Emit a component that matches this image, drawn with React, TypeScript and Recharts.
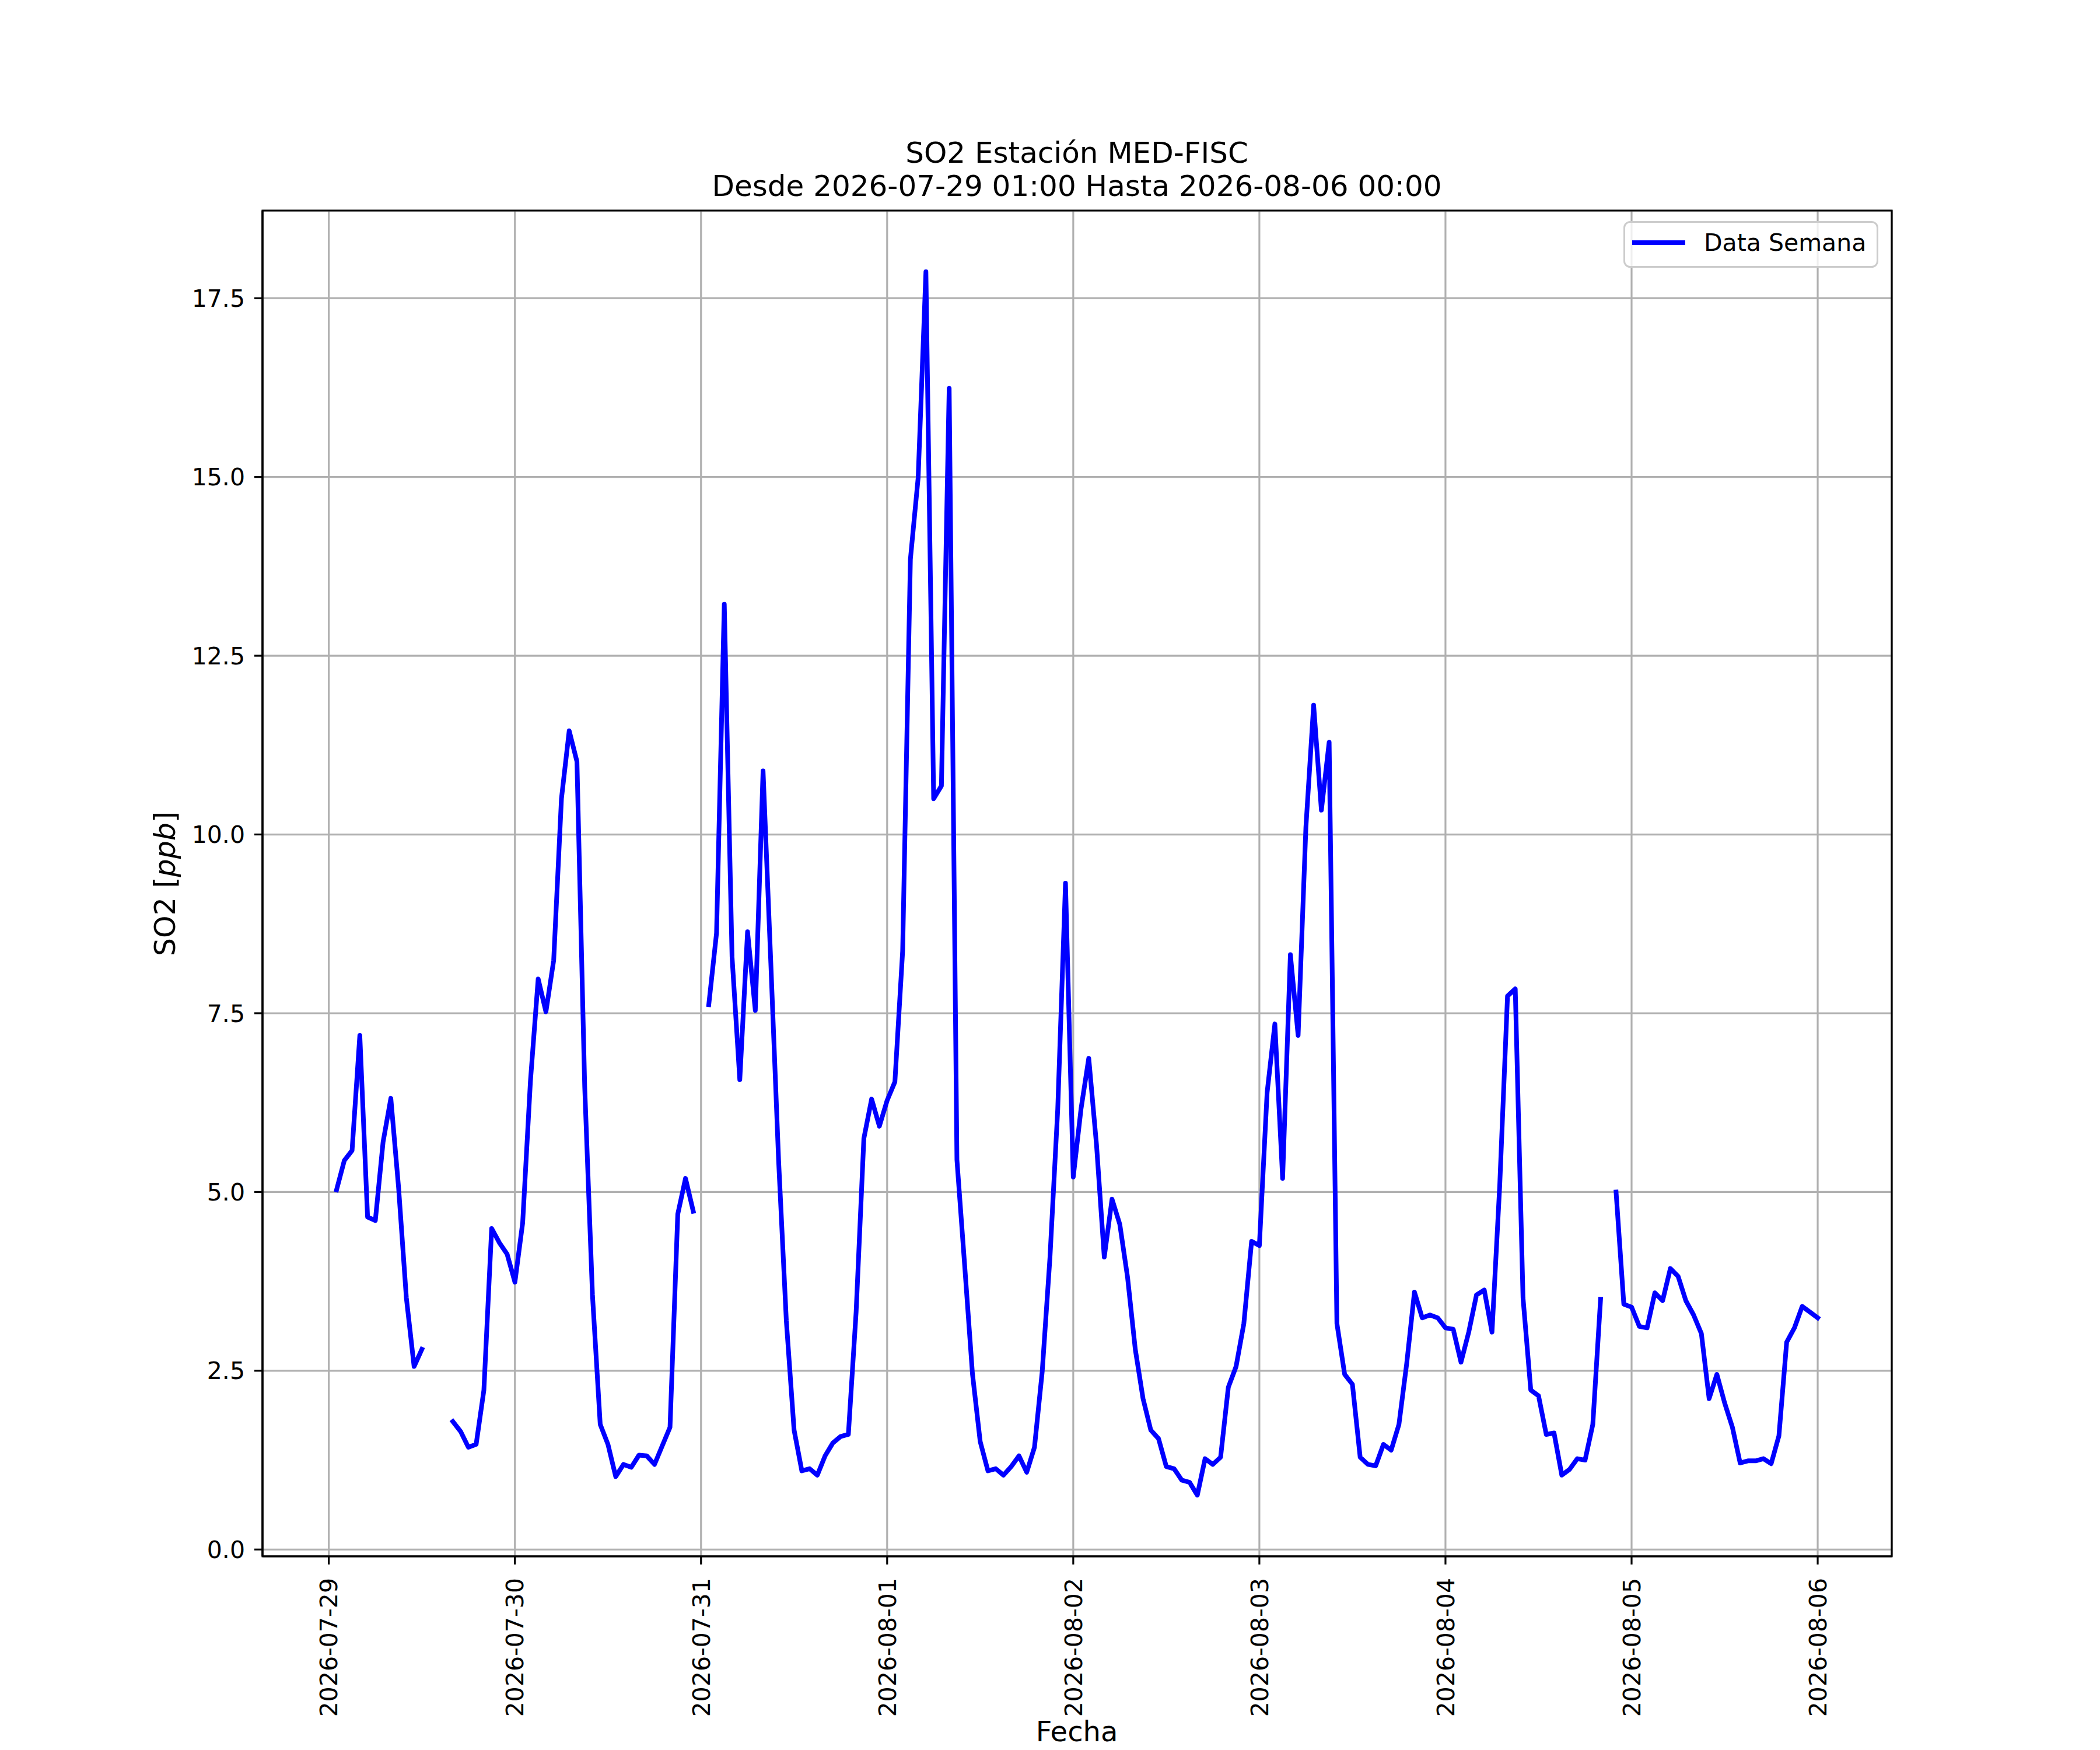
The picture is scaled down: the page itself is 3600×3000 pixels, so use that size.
import React from 'react';
import { LineChart, Line, XAxis, YAxis, CartesianGrid, Legend, ReferenceArea } from 'recharts';

// Hourly SO2 values (ppb), one array per day, starting 2026-07-29 01:00
const day0729 = [5.03, 5.44, 5.58, 7.19, 4.65, 4.60, 5.70, 6.31, 5.06, 3.52, 2.56, 2.80, null, null, null, 1.79, 1.65, 1.43, 1.47, 2.23, 4.49, 4.29, 4.13, 3.74];
const day0730 = [4.57, 6.55, 7.98, 7.52, 8.24, 10.5, 11.45, 11.02, 6.47, 3.56, 1.75, 1.47, 1.02, 1.19, 1.15, 1.32, 1.31, 1.19, 1.45, 1.71, 4.69, 5.19, 4.73, null];
const day0731 = [7.62, 8.62, 13.22, 8.29, 6.57, 8.64, 7.54, 10.89, 8.2, 5.45, 3.20, 1.67, 1.10, 1.13, 1.04, 1.31, 1.49, 1.58, 1.61, 3.32, 5.75, 6.30, 5.92, 6.28];
const day0801 = [6.54, 8.37, 13.85, 14.99, 17.87, 10.50, 10.68, 16.24, 5.45, 3.97, 2.46, 1.51, 1.10, 1.13, 1.04, 1.16, 1.31, 1.08, 1.43, 2.49, 4.09, 6.16, 9.32, 5.21];
const day0802 = [6.16, 6.87, 5.66, 4.09, 4.90, 4.55, 3.81, 2.80, 2.11, 1.67, 1.55, 1.16, 1.13, 0.97, 0.94, 0.76, 1.27, 1.19, 1.29, 2.27, 2.56, 3.16, 4.31, 4.25];
const day0803 = [6.39, 7.35, 5.19, 8.32, 7.19, 10.10, 11.81, 10.34, 11.29, 3.16, 2.45, 2.31, 1.29, 1.19, 1.17, 1.47, 1.39, 1.75, 2.60, 3.60, 3.24, 3.28, 3.24, 3.10];
const day0804 = [3.08, 2.62, 3.04, 3.56, 3.63, 3.04, 5.10, 7.74, 7.84, 3.52, 2.23, 2.15, 1.61, 1.63, 1.04, 1.12, 1.27, 1.25, 1.75, 3.50, null, 5.00, 3.43, 3.39];
const day0805 = [3.12, 3.10, 3.59, 3.48, 3.93, 3.82, 3.48, 3.28, 3.02, 2.11, 2.45, 2.05, 1.71, 1.21, 1.24, 1.24, 1.27, 1.20, 1.59, 2.90, 3.10, 3.40, 3.32, 3.24];

const dayLabels = ['2026-07-29', '2026-07-30', '2026-07-31', '2026-08-01', '2026-08-02', '2026-08-03', '2026-08-04', '2026-08-05', '2026-08-06'];
const yTicks = [0, 2.5, 5, 7.5, 10, 12.5, 15, 17.5];

const titleLine1 = 'SO2 Estación MED-FISC';
const titleLine2 = 'Desde 2026-07-29 01:00 Hasta 2026-08-06 00:00';
const seriesName = 'Data Semana';

const allDays = [day0729, day0730, day0731, day0801, day0802, day0803, day0804, day0805];
const data = allDays.flat().map((v, i) => ({ h: i + 1, so2: v }));
const xTicks = dayLabels.map((_, i) => i * 24);

const X_DOMAIN: [number, number] = [-8.55, 201.55];
const Y_DOMAIN: [number, number] = [-0.0955, 18.7255];

const FONT = 'DejaVu Sans';

const XTick = (props: any) => {
  const { x, y, payload } = props;
  const idx = Math.round(payload.value / 24);
  return (
    <text
      x={x}
      y={y}
      transform={`rotate(-90, ${x}, ${y})`}
      textAnchor="end"
      dy="0.36em"
      fontSize={41}
      fontFamily={FONT}
      fill="#000"
    >
      {dayLabels[idx]}
    </text>
  );
};

const LegendBox = () => (
  <svg width={440} height={82} style={{ display: 'block', overflow: 'visible' }}>
    <rect x={1.5} y={1.5} width={434} height={77} rx={10} ry={10} fill="#ffffff" fillOpacity={0.8} stroke="#cccccc" strokeWidth={3} />
    <line x1={15} y1={37} x2={106} y2={37} stroke="#0000ff" strokeWidth={8} />
    <text x={138} y={51} fontSize={41} fontFamily={FONT} fill="#000">{seriesName}</text>
  </svg>
);

export default function App() {
  return (
    <div style={{ position: 'absolute', left: 0, top: 0, width: 3600, height: 3000, background: '#fff' }}>
      <LineChart
        width={3600}
        height={3000}
        data={data}
        margin={{ top: 361, right: 357, bottom: 32, left: 250 }}
      >
        <CartesianGrid stroke="#b0b0b0" strokeWidth={3.2} />
        <XAxis
          dataKey="h"
          type="number"
          domain={X_DOMAIN}
          ticks={xTicks}
          allowDataOverflow
          height={300}
          tick={<XTick />}
          tickSize={14}
          tickMargin={23}
          tickLine={{ stroke: '#000', strokeWidth: 3.2 }}
          axisLine={{ stroke: '#000', strokeWidth: 3.2 }}
          interval={0}
        />
        <YAxis
          type="number"
          domain={Y_DOMAIN}
          ticks={yTicks}
          allowDataOverflow
          width={200}
          tickFormatter={(v: number) => v.toFixed(1)}
          tick={{ fontSize: 41, fill: '#000', fontFamily: FONT }}
          tickSize={14}
          tickMargin={16}
          tickLine={{ stroke: '#000', strokeWidth: 3.2 }}
          axisLine={{ stroke: '#000', strokeWidth: 3.2 }}
          interval={0}
        />
        <ReferenceArea
          x1={X_DOMAIN[0]}
          x2={X_DOMAIN[1]}
          y1={Y_DOMAIN[0]}
          y2={Y_DOMAIN[1]}
          fill="none"
          fillOpacity={0}
          stroke="#000"
          strokeWidth={3.2}
          ifOverflow="visible"
        />
        <Line
          type="linear"
          dataKey="so2"
          name={seriesName}
          stroke="#0000ff"
          strokeWidth={8}
          strokeLinejoin="round"
          strokeLinecap="square"
          dot={false}
          activeDot={false}
          connectNulls={false}
          isAnimationActive={false}
        />
        <Legend
          layout="horizontal"
          verticalAlign="middle"
          align="center"
          content={<LegendBox />}
          wrapperStyle={{ position: 'absolute', left: 2783, top: 379, width: 440, height: 82, margin: 0 }}
        />
      </LineChart>
      <svg
        width={3600}
        height={3000}
        style={{ position: 'absolute', left: 0, top: 0, pointerEvents: 'none' }}
      >
        <text x={1846} y={279} textAnchor="middle" fontSize={50} fontFamily={FONT} fill="#000">{titleLine1}</text>
        <text x={1846} y={336} textAnchor="middle" fontSize={50} fontFamily={FONT} fill="#000">{titleLine2}</text>
        <text x={1846} y={2985} textAnchor="middle" fontSize={48} fontFamily={FONT} fill="#000">Fecha</text>
        <text
          x={300}
          y={1515}
          transform="rotate(-90, 300, 1515)"
          textAnchor="middle"
          fontSize={49}
          fontFamily={FONT}
          fill="#000"
        >
          SO2 [<tspan fontStyle="italic">ppb</tspan>]
        </text>
      </svg>
    </div>
  );
}
